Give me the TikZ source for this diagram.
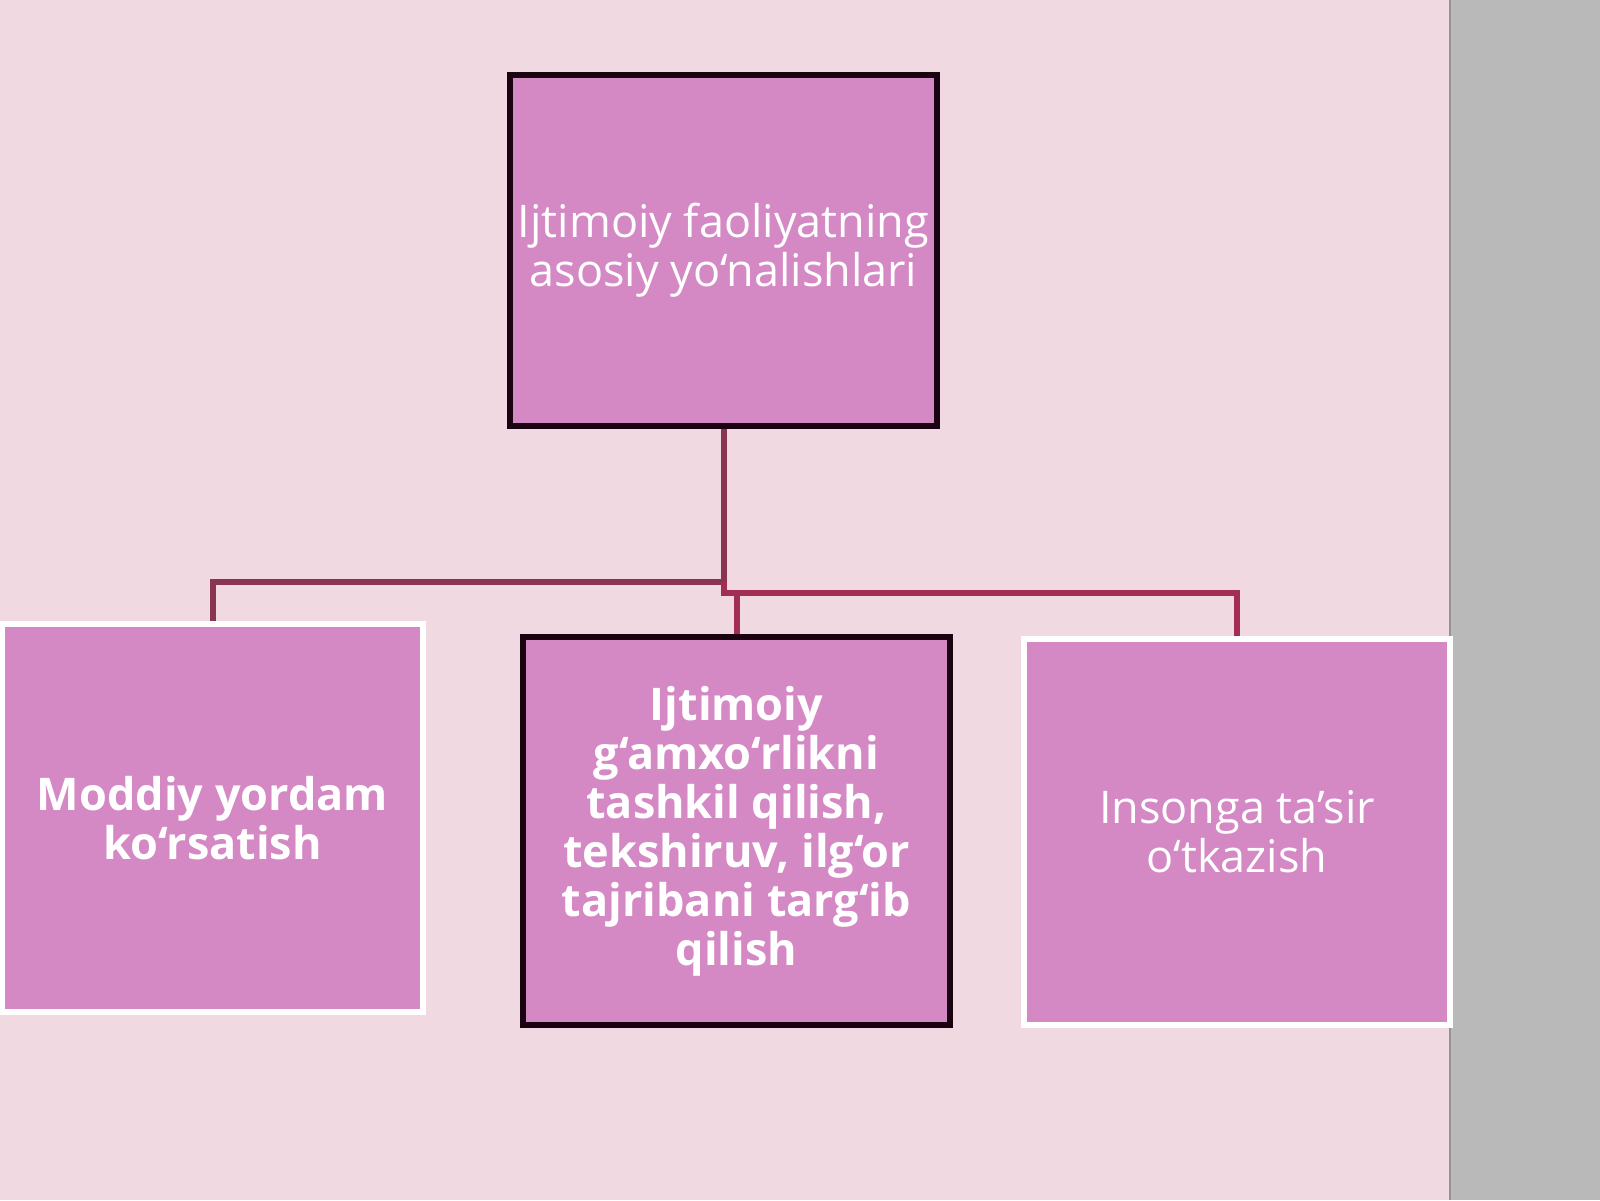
\documentclass[tikz,border=0pt]{standalone}
\usepackage{fontspec}
\setmainfont{Open Sans}
\usetikzlibrary{positioning}

\definecolor{bgpink}{RGB}{240,217,224}
\definecolor{sidegray}{RGB}{185,185,185}
\definecolor{boxfill}{RGB}{212,137,197}
\definecolor{boxdark}{RGB}{26,4,18}
\definecolor{linkA}{RGB}{138,52,84}
\definecolor{linkB}{RGB}{162,46,88}

\tikzset{every picture/.style={line width=0.75pt}}
\tikzset{
  box/.style={rectangle, fill=boxfill, line width=3pt, inner sep=0pt, align=center, text=white,
    font=\fontsize{22.5}{24.5}\selectfont},
  darkbox/.style={box, draw=boxdark},
  lightbox/.style={box, draw=white},
  link/.style={draw=linkA, line width=3pt},
  linkred/.style={draw=linkB, line width=3pt},
}

\begin{document}
\begin{tikzpicture}[x=0.5pt,y=0.5pt,yscale=-1,xscale=1]
        \useasboundingbox (0,0) rectangle (1600,1200);

        %Background
        \fill[bgpink] (0,0) rectangle (1450,1200);
        \fill[sidegray] (1450,0) rectangle (1600,1200);
        \draw[sidegray!80!black, line width=1pt] (1450,0) -- (1450,1200);

        %Boxes
        \node[darkbox, minimum width=213.5pt, minimum height=175.5pt] (top) at (723.5,250)
            {Ijtimoiy faoliyatning\\asosiy yo‘nalishlari};
        \node[lightbox, minimum width=210.5pt, minimum height=194pt, font=\fontsize{22.5}{24.5}\selectfont\bfseries] (left) at (212.5,818)
            {Moddiy yordam\\ko‘rsatish};
        \node[darkbox, minimum width=213.5pt, minimum height=194pt, font=\fontsize{22.5}{24.5}\selectfont\bfseries] (mid) at (736.5,831)
            {Ijtimoiy\\g‘amxo‘rlikni\\tashkil qilish,\\tekshiruv, ilg‘or\\tajribani targ‘ib\\qilish};
        \node[lightbox, minimum width=213pt, minimum height=193pt] (right) at (1237,832)
            {Insonga ta’sir\\o‘tkazish};

        %Connectors
        \coordinate (hubL) at (723.5,582);
        \coordinate (hubR) at (723.5,593);
        \draw[link] (top.south) -- (hubL) -| (left.north);
        \draw[linkred] (hubL) -- (hubR) -| (right.north);
        \draw[linkred] (hubR -| mid.north) -- (mid.north);

\end{tikzpicture}
\end{document}
